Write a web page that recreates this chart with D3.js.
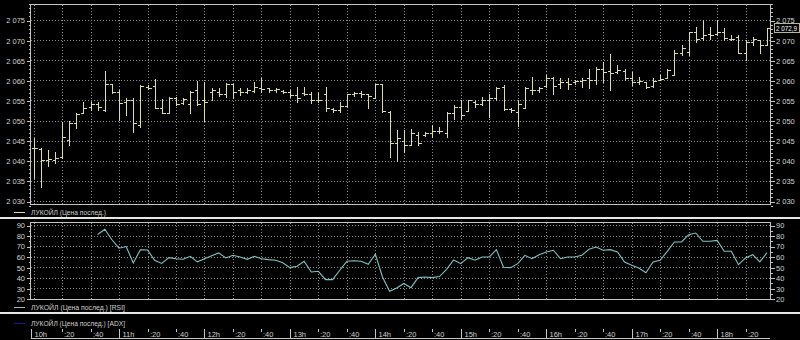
<!DOCTYPE html>
<html><head><meta charset="utf-8">
<script src="https://cdn.jsdelivr.net/npm/d3@7"></script>
<style>html,body{margin:0;padding:0;background:#000;}svg{display:block;}</style>
</head><body><svg id="c" width="800" height="340"></svg>
<script>
// ---------- DATA ----------
const times = [
"10:00","10:05","10:10","10:15","10:20","10:25","10:30","10:35","10:40","10:45","10:50","10:55",
"11:00","11:05","11:10","11:15","11:20","11:25","11:30","11:35","11:40","11:45","11:50","11:55",
"12:00","12:05","12:10","12:15","12:20","12:25","12:30","12:35","12:40","12:45","12:50","12:55",
"13:00","13:05","13:10","13:15","13:20","13:25","13:30","13:35","13:40","13:45","13:50","13:55",
"14:00","14:05","14:10","14:15","14:20","14:25","14:30","14:35","14:40","14:45","14:50","14:55",
"15:00","15:05","15:10","15:15","15:20","15:25","15:30","15:35","15:40","15:45","15:50","15:55",
"16:00","16:05","16:10","16:15","16:20","16:25","16:30","16:35","16:40","16:45","16:50","16:55",
"17:00","17:05","17:10","17:15","17:20","17:25","17:30","17:35","17:40","17:45","17:50","17:55",
"18:00","18:05","18:10","18:15","18:20","18:25","18:30","18:35"];
const open = [
2043.2,2043.0,2040.2,2040.3,2041.0,2045.2,2049.3,2051.8,2053.3,2054.0,
2052.6,2059.0,2057.0,2054.5,2055.0,2048.9,2058.3,2058.5,2053.1,2052.0,
2055.5,2054.4,2054.0,2057.5,2055.0,2057.0,2057.2,2056.5,2059.0,2057.5,
2057.0,2057.3,2058.0,2058.0,2057.6,2057.4,2057.0,2056.3,2056.8,2056.5,
2055.0,2056.5,2052.8,2052.6,2053.5,2056.5,2056.8,2056.5,2055.5,2059.1,
2052.2,2044.3,2045.0,2044.0,2046.5,2046.5,2047.0,2047.3,2047.0,2052.0,
2053.4,2052.5,2054.5,2054.0,2055.0,2055.5,2058.4,2052.8,2052.2,2053.0,
2057.5,2057.5,2058.5,2060.5,2059.0,2059.5,2059.6,2059.8,2060.5,2060.0,
2062.9,2062.3,2062.0,2062.3,2060.5,2059.5,2059.6,2058.5,2060.0,2060.5,
2061.3,2066.7,2067.0,2072.0,2070.5,2071.5,2071.5,2072.0,2070.4,2070.8,
2066.8,2069.6,2070.0,2068.8];
const high = [
2045.6,2043.1,2042.7,2042.2,2049.7,2049.8,2051.9,2054.7,2054.7,2054.7,
2062.4,2059.2,2057.6,2055.5,2055.7,2058.8,2058.8,2060.4,2055.3,2055.9,
2055.9,2055.7,2057.3,2059.8,2059.6,2058.0,2058.0,2059.4,2059.2,2058.2,
2058.0,2059.6,2060.6,2058.2,2058.2,2057.6,2057.6,2058.4,2058.4,2057.0,
2057.0,2058.4,2053.0,2054.7,2056.7,2057.0,2057.4,2056.7,2059.2,2059.2,
2052.3,2047.6,2047.6,2048.0,2047.2,2047.2,2048.9,2048.5,2052.2,2053.8,
2055.1,2055.1,2055.1,2055.9,2056.7,2058.4,2058.8,2053.2,2055.1,2058.4,
2060.9,2058.4,2061.3,2060.9,2060.5,2060.5,2060.0,2060.5,2062.9,2063.3,
2064.6,2066.6,2063.8,2062.9,2062.1,2060.9,2059.6,2060.5,2061.3,2062.9,
2067.5,2068.7,2072.0,2073.3,2074.9,2073.3,2074.9,2072.9,2071.2,2071.2,
2070.0,2070.8,2070.0,2073.0];
const low = [
2035.7,2033.6,2038.6,2039.5,2040.8,2044.0,2048.2,2051.8,2052.6,2052.6,
2052.3,2056.9,2050.2,2051.4,2047.2,2048.5,2057.8,2053.0,2051.8,2051.8,
2053.8,2054.0,2051.8,2053.8,2049.8,2055.0,2056.0,2055.8,2055.6,2056.4,
2056.8,2057.0,2057.0,2057.2,2057.2,2056.8,2055.9,2054.7,2056.3,2054.3,
2054.6,2052.4,2052.2,2052.2,2053.4,2056.2,2055.9,2053.0,2055.5,2052.2,
2041.0,2040.0,2042.3,2044.0,2043.9,2046.2,2046.0,2046.8,2046.0,2050.5,
2050.5,2052.4,2053.4,2053.8,2051.0,2055.1,2052.6,2052.2,2048.7,2053.0,
2056.7,2057.1,2058.4,2056.7,2058.0,2057.8,2059.0,2058.4,2058.0,2059.2,
2059.6,2057.6,2061.7,2060.0,2058.8,2059.2,2058.0,2058.4,2060.0,2060.5,
2061.3,2066.2,2066.2,2069.5,2070.0,2070.4,2071.2,2070.0,2070.0,2066.7,
2065.0,2068.7,2066.7,2068.7];
const close = [
2043.2,2040.2,2040.4,2040.8,2046.0,2049.5,2051.6,2053.0,2054.0,2053.3,
2059.0,2057.0,2054.3,2055.2,2049.3,2058.5,2058.1,2053.2,2052.0,2055.5,
2054.2,2055.3,2057.0,2054.0,2054.5,2057.5,2056.5,2059.2,2057.0,2057.0,
2057.5,2058.4,2057.8,2057.6,2057.8,2057.0,2056.3,2055.5,2056.5,2055.0,
2055.2,2053.0,2052.6,2053.5,2056.5,2056.8,2056.5,2056.0,2059.0,2052.5,
2044.3,2045.6,2044.0,2047.0,2044.3,2047.0,2047.5,2047.3,2052.0,2053.4,
2051.5,2055.0,2054.0,2055.0,2055.5,2058.2,2052.8,2052.6,2054.0,2058.0,
2057.5,2058.0,2060.5,2058.5,2059.5,2059.0,2059.8,2060.2,2060.0,2062.9,
2062.1,2061.8,2062.6,2060.5,2059.5,2059.8,2058.4,2059.8,2060.3,2062.5,
2066.7,2068.0,2072.0,2070.3,2071.2,2071.2,2072.0,2070.5,2070.4,2066.8,
2069.6,2070.4,2068.8,2072.9];
const rsi = [
null,null,null,null,null,null,null,null,null,81,
86,76,68,69.5,54,66.5,66.3,56.5,53.5,59,
58,57.5,60.3,55,58,60.8,63.5,58.7,61.2,59.6,
57.4,60.3,58,57.1,56.5,54.2,49.5,50.8,55.5,45.4,
46,38.1,38.1,47,55.5,56.1,55.5,52.7,62.2,40.6,
27,30.2,34.5,30.5,40,40.6,40,41,47.9,56.8,
53.3,59,56.5,59.6,59.6,66.6,49.8,49.5,53.3,61.2,
58,61.8,64.4,66,58,59.6,59.6,61.2,67,69.1,
66,66.6,64.4,54.9,51.7,49.2,44.7,54.9,56.5,65,
73.9,73.9,80.8,82.4,74.5,74.5,75.4,65,65,52.3,
58.7,61.8,54.9,63.7];
const priceTicks = [2030,2035,2040,2045,2050,2055,2060,2065,2070,2075];
const rsiTicks = [20,30,40,50,60,70,80,90];
const timeTicks = ["10:00","10:20","10:40","11:00","11:20","11:40","12:00","12:20","12:40",
"13:00","13:20","13:40","14:00","14:20","14:40","15:00","15:20","15:40","16:00","16:20","16:40",
"17:00","17:20","17:40","18:00","18:20"];
const timeLabels = ["10h",":20",":40","11h",":20",":40","12h",":20",":40","13h",":20",":40",
"14h",":20",":40","15h",":20",":40","16h",":20",":40","17h",":20",":40","18h",":20"];
const lastPrice = 2072.9;
const legendMain = "ЛУКОЙЛ (Цена послед.)";
const legendRsi = "ЛУКОЙЛ (Цена послед.) [RSI]";
const legendAdx = "ЛУКОЙЛ (Цена послед.) [ADX]";

// ---------- STYLE ----------
const BAR = "#dcdca8", RSIC = "#7fc4c4", ADXC = "#1a1a9a";
const FRAME = "#c4c4c4", GRID = "#8e8e8e", TXT = "#d0d0d0";
const FONT = "'Liberation Sans', Arial, sans-serif";

const svg = d3.select("#c");
svg.append("rect").attr("width",800).attr("height",340).attr("fill","#000");

const loc = d3.formatLocale({decimal:",", thousands:" ", grouping:[3], currency:["",""]});
const fmtP = loc.format(",d"), fmtL = loc.format(",.1f");
const mins = t => { const [h,m] = t.split(":").map(Number); return h*60+m-600; };
const px = v => Math.round(v) + 0.5;

const L = 30, R = 770;
const x = d3.scaleLinear().domain([0, 515]).range([33.6, 33.6 + 515*1.424]);
const yP = d3.scaleLinear().domain([2030, 2075]).range([201, 20]);
const yR = d3.scaleLinear().domain([20, 90]).range([298.7, 225]);

const mainTop = 4, mainBot = 204, rsiTop = 222, rsiBot = 299;

function grid(g, yScale, ticks, top, bot) {
  g.selectAll(".h").data(ticks).enter().append("line")
    .attr("x1", L+1).attr("x2", R).attr("y1", d=>px(yScale(d))).attr("y2", d=>px(yScale(d)))
    .attr("stroke", GRID).attr("stroke-dasharray","1,2");
  g.selectAll(".v").data(timeTicks).enter().append("line")
    .attr("x1", d=>px(x(mins(d)))).attr("x2", d=>px(x(mins(d))))
    .attr("y1", top+1).attr("y2", bot)
    .attr("stroke", GRID).attr("stroke-dasharray","1,2");
}
grid(svg.append("g"), yP, priceTicks, mainTop, mainBot);
grid(svg.append("g"), yR, rsiTicks, rsiTop, rsiBot);

// frames
[[mainTop, mainBot],[rsiTop, rsiBot]].forEach(([t,b]) => {
  svg.append("rect").attr("x", L+0.5).attr("y", t+0.5).attr("width", R-L).attr("height", b-t)
    .attr("fill","none").attr("stroke", FRAME);
});

// axes
function styleAxis(g) {
  g.select(".domain").remove();
  g.selectAll("line").attr("stroke", FRAME).attr("shape-rendering","crispEdges");
  g.selectAll("text").attr("fill", TXT).style("font-family", FONT).style("font-size","7.5px");
}
const minorP = d3.range(2029, 2080, 1);
svg.append("g").attr("transform",`translate(${L+0.5},0.5)`)
  .call(d3.axisLeft(yP).tickValues(minorP).tickSize(2).tickFormat("")).call(styleAxis);
svg.append("g").attr("transform",`translate(${R+0.5},0.5)`)
  .call(d3.axisRight(yP).tickValues(minorP).tickSize(2).tickFormat("")).call(styleAxis);
svg.append("g").attr("transform",`translate(${L+0.5},0.5)`)
  .call(d3.axisLeft(yP).tickValues(priceTicks).tickSize(4).tickPadding(1.5).tickFormat(fmtP)).call(styleAxis);
svg.append("g").attr("transform",`translate(${R+0.5},0.5)`)
  .call(d3.axisRight(yP).tickValues(priceTicks).tickSize(4).tickPadding(1.5).tickFormat(fmtP)).call(styleAxis);

const minorR = d3.range(20, 91, 5);
svg.append("g").attr("transform",`translate(${L+0.5},0.5)`)
  .call(d3.axisLeft(yR).tickValues(minorR).tickSize(2).tickFormat("")).call(styleAxis);
svg.append("g").attr("transform",`translate(${R+0.5},0.5)`)
  .call(d3.axisRight(yR).tickValues(minorR).tickSize(2).tickFormat("")).call(styleAxis);
svg.append("g").attr("transform",`translate(${L+0.5},0.5)`)
  .call(d3.axisLeft(yR).tickValues(rsiTicks).tickSize(4).tickPadding(1.5)).call(styleAxis);
svg.append("g").attr("transform",`translate(${R+0.5},0.5)`)
  .call(d3.axisRight(yR).tickValues(rsiTicks).tickSize(4).tickPadding(1.5)).call(styleAxis);

// OHLC bars
const bars = svg.append("g").attr("stroke", BAR).attr("shape-rendering","crispEdges");
times.forEach((t,i) => {
  const cx = px(x(mins(t)));
  bars.append("line").attr("x1",cx).attr("x2",cx)
    .attr("y1", Math.round(yP(high[i]))).attr("y2", Math.round(yP(low[i]))+1);
  bars.append("line").attr("x1",cx-3).attr("x2",cx)
    .attr("y1", px(yP(open[i]))).attr("y2", px(yP(open[i])));
  bars.append("line").attr("x1",cx).attr("x2",cx+3)
    .attr("y1", px(yP(close[i]))).attr("y2", px(yP(close[i])));
});

// RSI line
const rsiData = times.map((t,i)=>({t, v: rsi[i]})).filter(d=>d.v!==null);
svg.append("path").datum(rsiData)
  .attr("d", d3.line().x(d=>x(mins(d.t))).y(d=>yR(d.v)))
  .attr("fill","none").attr("stroke", RSIC).attr("stroke-width",1.1);

// last price box
const ly = yP(lastPrice);
svg.append("rect").attr("x",774.5).attr("y",Math.round(ly)-4.5).attr("width",25).attr("height",9)
  .attr("fill","#000").attr("stroke","#b8b890");
svg.append("text").attr("x",776).attr("y",Math.round(ly)+3)
  .attr("fill","#ffffff").style("font-family",FONT).style("font-size","7.5px")
  .attr("textLength",21).attr("lengthAdjust","spacingAndGlyphs").text(fmtL(lastPrice));

// separators
[217, 312].forEach(yy => svg.append("rect").attr("x",0).attr("y",yy).attr("width",800).attr("height",2).attr("fill","#e6e6e6"));

// legends
function legend(y, color, label, len) {
  svg.append("line").attr("x1",14).attr("x2",25).attr("y1",y+0.5).attr("y2",y+0.5).attr("stroke",color);
  svg.append("text").attr("x",31).attr("y",y+3).attr("fill",TXT)
    .style("font-family",FONT).style("font-size","7.5px")
    .attr("textLength",len).attr("lengthAdjust","spacingAndGlyphs").text(label);
}
legend(212, BAR, legendMain, 75);
legend(307, RSIC, legendRsi, 94);
legend(323, ADXC, legendAdx, 94);

// time axis
const tg = svg.append("g").attr("shape-rendering","crispEdges");
tg.append("line").attr("x1",31).attr("x2",R).attr("y1",338.5).attr("y2",338.5).attr("stroke",FRAME);
timeTicks.forEach((t,i) => {
  const isHour = timeLabels[i].endsWith("h");
  const tx = i===0 ? 31.5 : px(x(mins(t)));
  tg.append("line").attr("x1",tx).attr("x2",tx).attr("y1",329).attr("y2", isHour ? 338 : 332)
    .attr("stroke", FRAME);
  svg.append("text").attr("x", tx + (isHour ? 3 : 1.5)).attr("y",337)
    .attr("fill",TXT).style("font-family",FONT).style("font-size","7.5px").text(timeLabels[i]);
});
</script></body></html>
